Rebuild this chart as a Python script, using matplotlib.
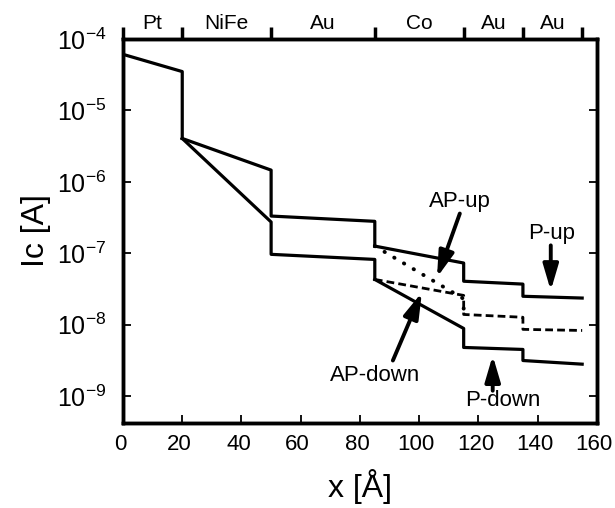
import matplotlib
matplotlib.use("Agg")
import matplotlib.pyplot as plt
from matplotlib.transforms import ScaledTranslation

plt.rcParams['font.family'] = ['Liberation Sans', 'DejaVu Sans']
plt.rcParams['mathtext.fontset'] = 'custom'
plt.rcParams['mathtext.rm'] = 'Liberation Sans'

# layer stack along x (Angstrom)
layer_edges = [0, 20, 50, 85, 115, 135, 155]
layer_names = ["Pt", "NiFe", "Au", "Co", "Au", "Au"]

# common part (Pt layer)
x_common = [0, 20, 20]
y_common = [6.1e-5, 3.5e-5, 4.05e-6]

# spin-up / spin-down branches up to the Co layer
x_branch = [20, 50, 50, 85, 85]
y_up = [4.05e-6, 1.46e-6, 3.32e-7, 2.8e-7, 1.26e-7]
y_down = [4.05e-6, 2.74e-7, 9.66e-8, 8.2e-8, 4.3e-8]

# after the Co layer
x_tail = [85, 115, 115, 135, 135, 155]
y_p_up = [1.26e-7, 7.3e-8, 4.06e-8, 3.7e-8, 2.5e-8, 2.36e-8]
y_p_down = [4.3e-8, 8.85e-9, 4.8e-9, 4.5e-9, 3.15e-9, 2.8e-9]
y_ap_down = [4.3e-8, 2.57e-8, 1.39e-8, 1.27e-8, 8.6e-9, 8.3e-9]
x_ap_up = [85, 115, 115]
y_ap_up = [1.26e-7, 2.3e-8, 1.6e-8]

fig = plt.figure(figsize=(6.15, 5.08), dpi=100)
ax = fig.add_axes([0.2, 0.1673, 0.7707, 0.7559])

lw = 2.3
ax.plot(x_common, y_common, color='k', lw=lw)
ax.plot(x_branch, y_up, color='k', lw=lw)
ax.plot(x_branch, y_down, color='k', lw=lw)
ax.plot(x_tail, y_p_up, color='k', lw=lw)
ax.plot(x_tail, y_p_down, color='k', lw=lw)
ax.plot(x_tail, y_ap_down, color='k', lw=2.0, linestyle=(0, (2.8, 1.5)))
ax.plot(x_ap_up, y_ap_up, color='k', lw=2.8, linestyle=(0, (0.1, 2.8)),
        dash_capstyle='round')

ax.set_yscale('log')
ax.set_xlim(0, 160)
ax.set_ylim(4.2e-10, 1e-4)
ax.set_xticks(range(0, 161, 20))
ax.set_yticks([1e-9, 1e-8, 1e-7, 1e-6, 1e-5, 1e-4])
ax.minorticks_off()
ax.tick_params(axis='both', which='major', direction='in', length=6,
               width=1.3, right=True, top=False)
ax.tick_params(axis='x', labelsize=16, pad=8)
ax.tick_params(axis='y', labelsize=18, pad=12)
shift = ScaledTranslation(-3 / 100, 0, fig.dpi_scale_trans)
for lab in ax.get_xticklabels():
    lab.set_transform(lab.get_transform() + shift)
for s in ax.spines.values():
    s.set_linewidth(2.5)

ax.set_xlabel("x [Å]", fontsize=23, labelpad=10)
ax.set_ylabel("Ic [A]", fontsize=23, labelpad=4)

# layer labels on top
ax2 = ax.twiny()
ax2.set_xlim(0, 160)
ax2.set_xticks(layer_edges)
ax2.set_xticklabels([])
centers = [(a + b) / 2 for a, b in zip(layer_edges[:-1], layer_edges[1:])]
ax2.set_xticks(centers, minor=True)
ax2.set_xticklabels(layer_names, minor=True)
ax2.tick_params(axis='x', which='major', direction='out', length=9, width=2.5)
ax2.tick_params(axis='x', which='minor', length=0, labelsize=15, pad=4)
for s in ax2.spines.values():
    s.set_linewidth(2.5)

arrow = dict(arrowstyle='-|>,head_length=0.78,head_width=0.23', lw=2.8,
             color='k', mutation_scale=20, shrinkA=0, shrinkB=0)

ax.annotate('', xy=(106.0, 4.6e-8), xytext=(113.7, 3.6e-7), arrowprops=arrow)
ax.text(113.7, 5.35e-7, "AP-up", fontsize=16, ha='center', va='center')

ax.annotate('', xy=(100.9, 2.83e-8), xytext=(91.1, 3.15e-9), arrowprops=arrow)
ax.text(85.1, 1.94e-9, "AP-down", fontsize=16, ha='center', va='center')

ax.annotate('', xy=(144.4, 3.0e-8), xytext=(144.4, 1.29e-7), arrowprops=arrow)
ax.text(144.8, 1.9e-7, "P-up", fontsize=16, ha='center', va='center')

ax.annotate('', xy=(124.8, 3.7e-9), xytext=(124.8, 1.19e-9), arrowprops=arrow)
ax.text(128.3, 8.65e-10, "P-down", fontsize=16, ha='center', va='center')

fig.savefig("out.png", dpi=100)
